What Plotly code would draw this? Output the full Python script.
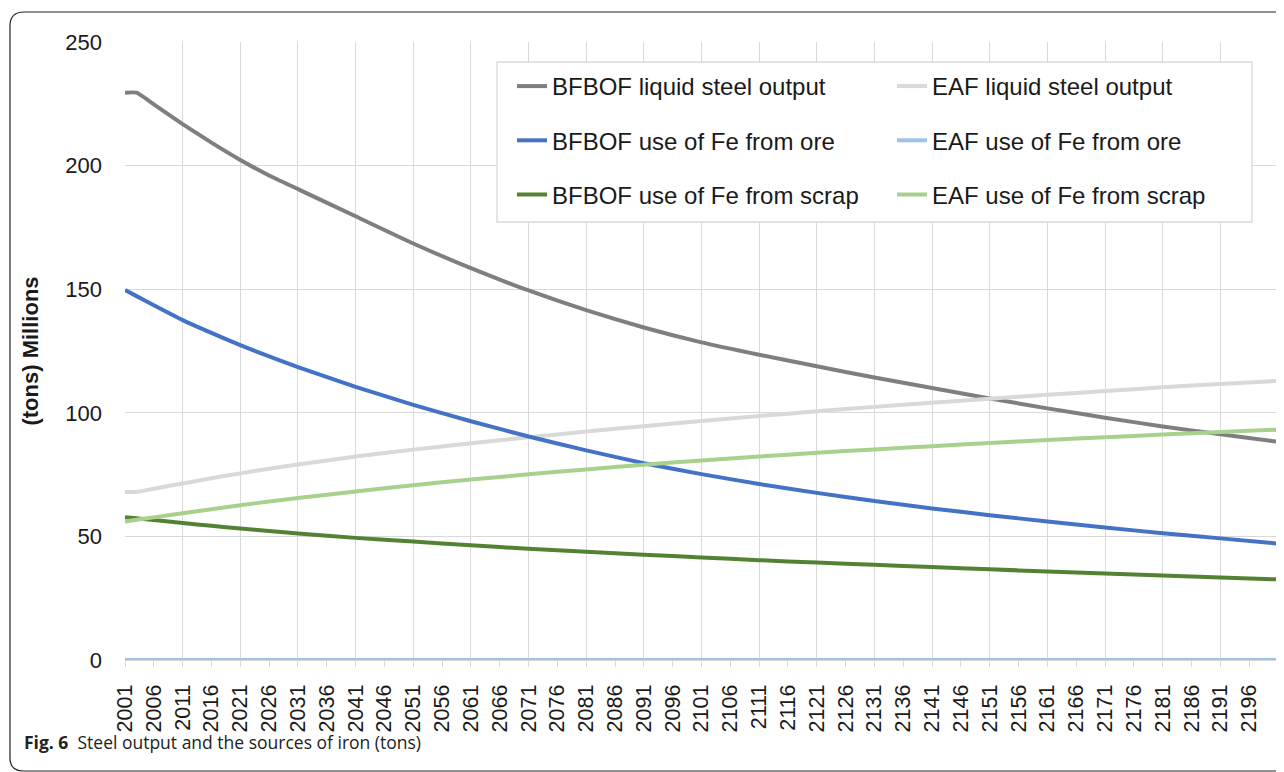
import plotly.graph_objects as go

# ---- data ----
years = [2001, 2003, 2006, 2011, 2016, 2021, 2026, 2031, 2041, 2051, 2061, 2071,
         2081, 2091, 2101, 2111, 2121, 2131, 2141, 2151, 2161, 2171, 2181, 2191, 2201]

bfbof_liquid = [229.5, 229.5, 224.8, 216.8, 209.3, 202.3, 196.0, 190.5, 179.5, 168.5,
                158.5, 149.5, 141.5, 134.5, 128.5, 123.5, 118.8, 114.3, 110.0, 105.8,
                101.8, 98.0, 94.5, 91.3, 88.3]
eaf_liquid = [68.0, 68.0, 69.3, 71.4, 73.5, 75.5, 77.4, 79.1, 82.3, 85.1, 87.7, 90.1,
              92.4, 94.6, 96.7, 98.7, 100.6, 102.4, 104.1, 105.7, 107.3, 108.8, 110.3,
              111.7, 112.9]
bfbof_ore = [149.7, 147.2, 143.5, 137.5, 132.3, 127.4, 122.8, 118.5, 110.5, 103.2, 96.6,
             90.4, 84.8, 79.6, 75.2, 71.2, 67.6, 64.3, 61.3, 58.6, 56.0, 53.6, 51.3,
             49.2, 47.1]
eaf_ore = [0.0, 0.0, 0.0, 0.0, 0.0, 0.0, 0.0, 0.0, 0.0, 0.0, 0.0, 0.0, 0.0,
           0.0, 0.0, 0.0, 0.0, 0.0, 0.0, 0.0, 0.0, 0.0, 0.0, 0.0, 0.0]
bfbof_scrap = [57.8, 57.3, 56.6, 55.4, 54.3, 53.2, 52.2, 51.2, 49.4, 47.9, 46.4, 45.0,
               43.8, 42.6, 41.5, 40.4, 39.4, 38.5, 37.6, 36.7, 35.8, 35.0, 34.2, 33.4,
               32.6]
eaf_scrap = [56.0, 56.7, 57.7, 59.4, 61.0, 62.6, 64.1, 65.5, 68.2, 70.7, 73.0, 75.1,
             77.1, 79.0, 80.7, 82.3, 83.8, 85.2, 86.5, 87.8, 89.0, 90.1, 91.2, 92.2,
             93.2]

tick_years = list(range(2001, 2197, 5))
tick_labels = [str(y) for y in tick_years]
y_ticks = [0, 50, 100, 150, 200, 250]

# ---- layout geometry ----
# the page adds an 8px body margin, so the figure is shifted by 8px
OFF = 8
W, H = 1276, 764
L, R, T, B = 117, 6, 34, 112
PW, PH = W - L - R, H - T - B


def px(x):  # page pixel -> paper
    return (x - OFF - L) / PW


def py(y):  # page pixel -> paper
    return (H - B - (y - OFF)) / PH


FONT = "Liberation Sans, Arial, sans-serif"
GRID = "#d9d9d9"

fig = go.Figure()

series = [
    ("BFBOF liquid steel output", bfbof_liquid, "#7f7f7f", "legend", "x"),
    ("EAF liquid steel output", eaf_liquid, "#d9d9d9", "legend2", "x"),
    ("BFBOF use of Fe from ore", bfbof_ore, "#4472c4", "legend", "x"),
    ("EAF use of Fe from ore", eaf_ore, "#9dc3e6", "legend2", "x2"),
    ("BFBOF use of Fe from scrap", bfbof_scrap, "#548235", "legend", "x"),
    ("EAF use of Fe from scrap", eaf_scrap, "#a9d18e", "legend2", "x"),
]

for name, vals, color, leg, xa in series:
    fig.add_trace(go.Scatter(
        x=years, y=vals, name=name, mode="lines",
        line=dict(color=color, width=4, shape="spline", smoothing=0.5),
        legend=leg, legendgroup=name, xaxis=xa, yaxis="y",
        hoverinfo="x+y+name",
    ))

legend_common = dict(
    font=dict(family=FONT, size=24, color="#1a1a1a"),
    bgcolor="rgba(0,0,0,0)", borderwidth=0,
    orientation="v", xanchor="left", yanchor="top",
    tracegroupgap=20, traceorder="grouped",
)

fig.update_layout(
    template="none",
    width=W, height=H,
    margin=dict(l=L, r=R, t=T, b=B, pad=0),
    paper_bgcolor="white", plot_bgcolor="white",
    font=dict(family=FONT, color="#1a1a1a"),
    xaxis=dict(
        range=[2001, 2201], tickmode="array", tickvals=tick_years, ticktext=tick_labels,
        tickangle=-90, ticks="outside", ticklen=6, tickcolor=GRID, tickwidth=1,
        tickfont=dict(family=FONT, size=21.5, color="#1a1a1a"),
        ticklabelstandoff=9,
        showgrid=False, showline=True, linecolor=GRID, linewidth=1,
        zeroline=False, automargin=False, fixedrange=True,
    ),
    xaxis2=dict(
        range=[2001, 2201], overlaying="x", anchor="y", side="bottom",
        tickmode="linear", tick0=2001, dtick=10,
        showgrid=True, gridcolor=GRID, gridwidth=1.3,
        showticklabels=False, ticks="", showline=False, zeroline=False,
        automargin=False, fixedrange=True,
    ),
    yaxis=dict(
        range=[0, 250], tickmode="array", tickvals=y_ticks,
        showgrid=True, gridcolor=GRID, gridwidth=1.3, zeroline=False,
        showline=False, ticks="",
        tickfont=dict(family=FONT, size=22, color="#1a1a1a"),
        ticklabelstandoff=22,
        title=dict(text="<b>(tons) Millions</b>",
                   font=dict(family=FONT, size=22, color="#1a1a1a"), standoff=20),
        automargin=False, fixedrange=True,
    ),
    legend=dict(x=px(512), y=py(64), **legend_common),
    legend2=dict(x=px(892), y=py(64), **legend_common),
    showlegend=True,
)

# legend frame
fig.add_shape(type="rect", xref="paper", yref="paper",
              x0=px(497), x1=px(1252), y0=py(222), y1=py(62),
              line=dict(color=GRID, width=1.3), fillcolor="white", layer="above")

# outer rounded frame of the figure panel
path = (f"M {px(1300)},{py(12)} L {px(24)},{py(12)} "
        f"Q {px(10)},{py(12)} {px(10)},{py(26)} "
        f"L {px(10)},{py(758)} Q {px(10)},{py(771)} {px(23)},{py(771)} "
        f"L {px(1300)},{py(771)}")
fig.add_shape(type="path", xref="paper", yref="paper", path=path,
              line=dict(color="#222222", width=1.2), layer="above")

# caption
fig.add_annotation(
    xref="paper", yref="paper", x=px(22), y=py(742), xanchor="left", yanchor="middle",
    showarrow=False,
    text="<b>Fig. 6</b>  Steel output and the sources of iron (tons)",
    font=dict(family="Open Sans, Noto Sans, sans-serif", size=17.5, color="#222222"),
)

fig.write_html("out.html")
